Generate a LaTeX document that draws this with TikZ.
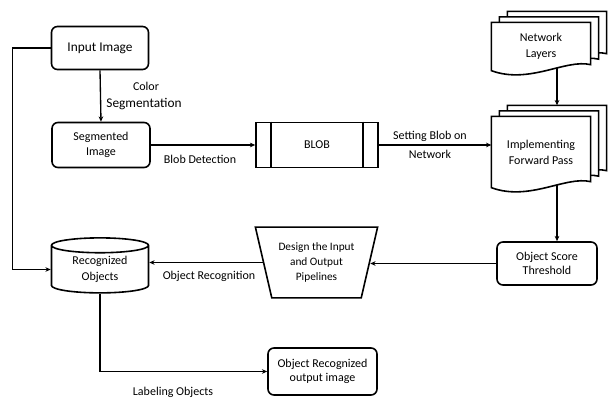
\documentclass[tikz,border=0pt]{standalone}
\usepackage{fontspec}
\setmainfont{Carlito}
\usetikzlibrary{arrows.meta,shapes.geometric,backgrounds,positioning,calc}
\tikzset{
  every picture/.style={line width=1pt},
  rbox/.style={draw, line width=1.2pt, rounded corners=4.5pt, align=center,
    font=\fontsize{9}{11}\selectfont, inner sep=1pt},
  procbox/.style={draw, line width=1.2pt, align=center, font=\fontsize{9}{11}\selectfont},
  docnode/.style={inner sep=0pt, align=center, font=\fontsize{9}{12}\selectfont,
    minimum width=73.5pt},
  sheet/.style={draw, fill=white, line width=1.2pt},
  dbbox/.style={cylinder, shape border rotate=90, aspect=0.27, draw, line width=1.2pt,
    align=center, font=\fontsize{9}{12}\selectfont, inner sep=0pt},
  trapbox/.style={trapezium, trapezium left angle=109, trapezium right angle=109,
    trapezium stretches=true, draw, line width=1.2pt, align=center,
    font=\fontsize{8.5}{11.5}\selectfont, inner sep=0pt},
  arr/.style={-{Stealth[length=4pt,width=3.5pt]}},
  lbl/.style={font=\fontsize{9}{11}\selectfont, align=center}
}

\begin{document}
\begin{tikzpicture}[x=0.75pt, y=-0.75pt]
    \useasboundingbox (0,0) rectangle (610,398);

    % boxes
    \node[rbox, minimum width=72.75pt, minimum height=32.25pt, font=\fontsize{10}{12}\selectfont] (input) at (100,48) {Input Image};
    \node[rbox, minimum width=73.5pt, minimum height=33.75pt] (segimg) at (101,145) {Segmented\\Image};
    \node[procbox, minimum width=91.5pt, minimum height=33.75pt] (blob) at (317,145) {BLOB};
    \node[docnode, minimum height=35.25pt] (layers) at (541,46.5) {Network\\Layers};
    \node[docnode, minimum height=52.5pt] (fwdpass) at (541,152) {Implementing\\Forward Pass};
    \node[rbox, minimum width=75pt, minimum height=32.25pt] (ost) at (547,263.5) {Object Score\\Threshold};
    \node[trapbox, minimum width=92pt, minimum height=53pt] (design) at (316.5,262.5) {Design the Input\\and Output\\Pipelines};
    \node[dbbox, minimum width=72.75pt, minimum height=41.25pt] (recog) at (100,269.5) {Recognized\\Objects};
    \node[rbox, minimum width=81.75pt, minimum height=35.25pt] (output) at (322.5,371.5) {Object Recognized\\output image};

    % process box side bars
    \draw[line width=1.2pt] ([shift={(16,0)}]blob.north west) -- ([shift={(16,0)}]blob.south west);
    \draw[line width=1.2pt] ([shift={(-16,0)}]blob.north east) -- ([shift={(-16,0)}]blob.south east);

    % stacked documents
    \begin{scope}[on background layer]
    \foreach \n in {layers,fwdpass}{
      \foreach \k in {2,1,0}{
        \draw[sheet] ($(\n.north west)+(8*\k,-5.5*\k)$) -- ($(\n.north east)+(8*\k,-5.5*\k)$)
          -- ($(\n.south east)+(8*\k,-5.5*\k-6)$)
          .. controls ($(\n.south east)+(8*\k-25,-5.5*\k-12)$) and ($(\n.south west)+(8*\k+38,-5.5*\k+14)$)
          .. ($(\n.south west)+(8*\k,-5.5*\k)$) -- cycle;
      }
    }
    \end{scope}

    % connectors
    \coordinate (lyout) at ([shift={(16,-3)}]layers.south);
    \coordinate (fpin) at ([shift={(16,-11)}]fwdpass.north);
    \coordinate (fpout) at ([shift={(16,-3)}]fwdpass.south);
    \draw[arr] (input.south) -- (segimg.north);
    \draw[arr] (segimg.east) -- (blob.west);
    \draw[arr] (blob.east) -- (blob.east -| fwdpass.west);
    \draw[arr] (lyout) -- (fpin);
    \draw[arr] (fpout) -- (fpout |- ost.north);
    \draw[arr] (ost.west) -- (ost.west -| design.east);
    \draw[arr] (design.west) -- (design.west -| recog.east);
    \draw[arr] (input.west) -- ++(-38,0) |- (recog.west);
    \draw[arr] (recog.south) |- (output.west);

    % labels
    \node[lbl] (lblcolor) at (146,86) {Color};
    \node[lbl, font=\fontsize{10}{12}\selectfont] (lblseg) at (144,104) {Segmentation};
    \node[lbl] (lblblob) at (200,159) {Blob Detection};
    \node[lbl, font=\fontsize{9}{14.25}\selectfont] (lblset) at (430,145) {Setting Blob on\\Network};
    \node[lbl] (lblrecog) at (209,276) {Object Recognition};
    \node[lbl] (lbllabel) at (173,392) {Labeling Objects};
\end{tikzpicture}
\end{document}
